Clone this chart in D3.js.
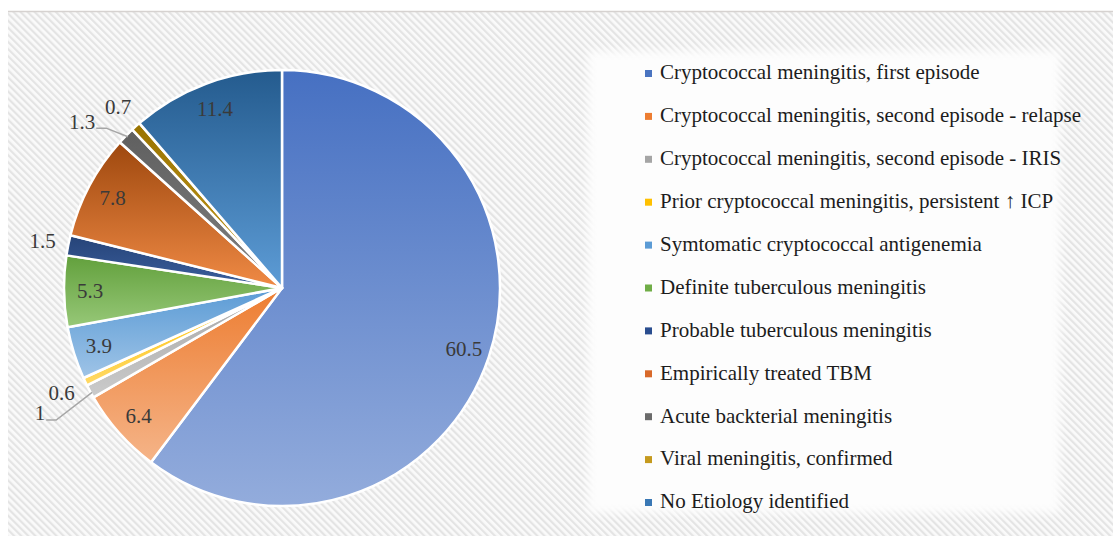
<!DOCTYPE html>
<html>
  <head>
    <script src="https://d3js.org/d3.v7.min.js" charset="utf-8"></script>
    <meta charset="UTF-8">
    <title>meningitis etiology pie</title>
    <style>
      body { margin: 0; background: #ffffff; }
      svg { display: block; }
      text { font-family: "Liberation Serif", "Times New Roman", "DejaVu Serif", serif; }
    </style>
  </head>
  <body>
    <svg class="chart"></svg>
    <script type="text/javascript">

     var width = 1113,
         height = 536;

     // data, clockwise from 12 o'clock
     var categories = [
         "Cryptococcal meningitis, first episode",
         "Cryptococcal meningitis, second episode - relapse",
         "Cryptococcal meningitis, second episode - IRIS",
         "Prior cryptococcal meningitis, persistent \u2191 ICP",
         "Symtomatic cryptococcal antigenemia",
         "Definite tuberculous meningitis",
         "Probable tuberculous meningitis",
         "Empirically treated TBM",
         "Acute backterial meningitis",
         "Viral meningitis, confirmed",
         "No Etiology identified"
     ];
     var values = [60.5, 6.4, 1, 0.6, 3.9, 5.3, 1.5, 7.8, 1.3, 0.7, 11.4];
     var valueLabels = ["60.5", "6.4", "1", "0.6", "3.9", "5.3", "1.5", "7.8", "1.3", "0.7", "11.4"];

     // colours: base (top of slice) and light (bottom of slice)
     var baseColors  = ["#4670c2", "#ed7d31", "#a5a5a5", "#ffc000", "#5b9bd5", "#62a03c",
                        "#264478", "#9e480e", "#5f5f5f", "#997300", "#245b8e"];
     var lightColors = ["#93acdc", "#f5b488", "#cbcbcb", "#ffd966", "#9fc4e7", "#97c878",
                        "#3b5f9e", "#f08a45", "#808080", "#c59a1e", "#5d9cd6"];
     var legendColors = ["#4a74c0", "#ed7d31", "#a5a5a5", "#ffc000", "#5b9bd5", "#70ad47",
                         "#2a4d8f", "#d8692a", "#6b6b6b", "#c59a1e", "#3a78b5"];

     var cx = 282, cy = 288, radius = 218;

     // label placement
     var callouts = {
         "Cryptococcal meningitis, second episode - IRIS": 1.2,
         "Acute backterial meningitis": 1.09
     };

     var svg = d3.select(".chart")
                 .attr("width", width)
                 .attr("height", height);

     var defs = svg.append("defs");

     var hatch = defs.append("pattern")
                     .attr("id", "hatch")
                     .attr("patternUnits", "userSpaceOnUse")
                     .attr("width", 5)
                     .attr("height", 5)
                     .attr("patternTransform", "rotate(-45)");
     hatch.append("rect").attr("width", 5).attr("height", 5).attr("fill", "#fafafa");
     hatch.append("rect").attr("width", 2.2).attr("height", 5).attr("fill", "#e4e4e4");

     var blur = defs.append("filter").attr("id", "soft")
                    .attr("x", "-10%").attr("y", "-10%")
                    .attr("width", "120%").attr("height", "120%");
     blur.append("feGaussianBlur").attr("stdDeviation", 4);

     values.forEach(function(v, i) {
         var g = defs.append("linearGradient")
                     .attr("id", "grad" + i)
                     .attr("x1", 0).attr("y1", 0)
                     .attr("x2", 0).attr("y2", 1);
         g.append("stop").attr("offset", "0%").attr("stop-color", baseColors[i]);
         g.append("stop").attr("offset", "100%").attr("stop-color", lightColors[i]);
     });

     // background
     svg.append("rect").attr("width", width).attr("height", height).attr("fill", "#ffffff");
     svg.append("rect")
        .attr("x", 8).attr("y", 11)
        .attr("width", width - 8).attr("height", height - 11)
        .attr("fill", "url(#hatch)");
     svg.append("line")
        .attr("x1", 8).attr("x2", width)
        .attr("y1", 11.5).attr("y2", 11.5)
        .attr("stroke", "#d6d2d0").attr("stroke-width", 1.5);

     // legend panel
     svg.append("rect")
        .attr("x", 588).attr("y", 51)
        .attr("width", 472).attr("height", 462)
        .attr("fill", "#fdfdfd")
        .attr("filter", "url(#soft)");

     // pie
     var pie = d3.pie().sort(null).value(function(d) { return d; });
     var arcs = pie(values);

     var arc = d3.arc().innerRadius(0).outerRadius(radius);
     var labelArcIn = d3.arc().innerRadius(radius * 0.88).outerRadius(radius * 0.88);
     var labelArcOut = d3.arc().innerRadius(radius * 1.12).outerRadius(radius * 1.12);

     var pieG = svg.append("g").attr("transform", "translate(" + cx + "," + cy + ")");

     pieG.selectAll("path.slice")
         .data(arcs)
         .enter().append("path")
         .attr("class", "slice")
         .attr("d", arc)
         .attr("fill", function(d, i) { return "url(#grad" + i + ")"; })
         .attr("stroke", "#ffffff")
         .attr("stroke-width", 2.5)
         .attr("stroke-linejoin", "round");

     var labelsG = pieG.append("g").attr("class", "labels");

     arcs.forEach(function(d, i) {
         var name = categories[i];
         var mid = (d.startAngle + d.endAngle) / 2;
         if (callouts[name]) {
             var f = callouts[name];
             var ex = Math.sin(mid) * radius, ey = -Math.cos(mid) * radius;
             var bx = Math.sin(mid - 0.035) * radius * f,
                 by = -Math.cos(mid - 0.035) * radius * f;
             labelsG.append("polyline")
                    .attr("points", [[bx - 10, by], [bx, by], [ex + 2, ey + 1]].join(" "))
                    .attr("fill", "none")
                    .attr("stroke", "#a6a6a6")
                    .attr("stroke-width", 1.5);
             labelsG.append("text")
                    .attr("x", bx - 11)
                    .attr("y", by - 7)
                    .attr("dy", "0.35em")
                    .attr("text-anchor", "end")
                    .attr("font-size", 21)
                    .attr("fill", "#3a3a3a")
                    .text(valueLabels[i]);
         } else {
             var c = (d.value >= 3 ? labelArcIn : labelArcOut).centroid(d);
             labelsG.append("text")
                    .attr("x", c[0])
                    .attr("y", c[1])
                    .attr("dy", "0.35em")
                    .attr("text-anchor", "middle")
                    .attr("font-size", 21)
                    .attr("fill", "#3a3a3a")
                    .text(valueLabels[i]);
         }
     });

     // legend
     var legendY = d3.scalePoint()
                     .domain(categories)
                     .range([72, 501]);

     var legend = svg.append("g").attr("class", "legend");

     var items = legend.selectAll("g.item")
                       .data(categories)
                       .enter().append("g")
                       .attr("class", "item")
                       .attr("transform", function(d) { return "translate(645," + legendY(d) + ")"; });

     items.append("rect")
          .attr("x", 0).attr("y", -2)
          .attr("width", 7).attr("height", 7)
          .attr("fill", function(d, i) { return legendColors[i]; });

     items.append("text")
          .attr("x", 15)
          .attr("y", 0)
          .attr("dy", "0.35em")
          .attr("font-size", 21)
          .attr("fill", "#1c1c1c")
          .text(function(d) { return d; });

    </script>
  </body>
</html>
